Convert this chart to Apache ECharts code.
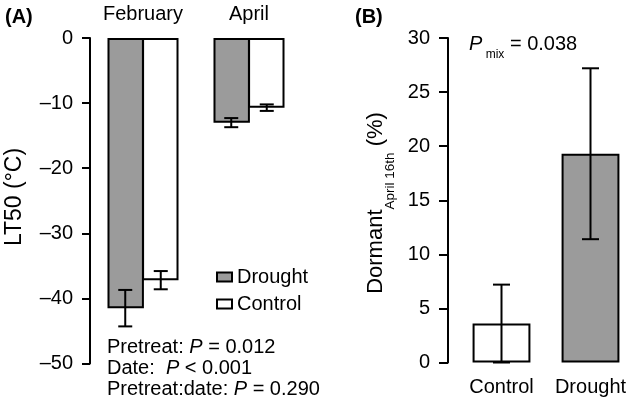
<!DOCTYPE html>
<html><head><meta charset="utf-8">
<script src="https://cdn.jsdelivr.net/npm/echarts@6/dist/echarts.min.js"></script>
<style>html,body{margin:0;padding:0;background:#fff}#c{width:628px;height:403px}</style>
</head><body><div id="c"></div>
<script>
// ---- Panel A data ----
var monthsA = ['February', 'April'];
var droughtA = [-41.5, -13.0];
var droughtSeA = [2.8, 0.7];
var controlA = [-37.2, -10.7];
var controlSeA = [1.4, 0.5];
var yTicksA = [-50, -40, -30, -20, -10, 0];
// ---- Panel B data ----
var groupsB = ['Control', 'Drought'];
var dormantB = [3.6, 19.3];
var dormantSeB = [3.6, 7.9];
var yTicksB = [0, 5, 10, 15, 20, 25, 30];

var FONT = '"Liberation Sans", Arial, Helvetica, sans-serif';
var FS = 20;
var TFS = 22;
var GRAY = '#9b9b9b';
var GAP_A = 0.33, GAP_B = 0.35;

function errRender(gap, capW) {
  return function (params, api) {
    var ci = api.value(0), lo = api.value(1), hi = api.value(2), side = api.value(3), n = api.value(4);
    var band = api.size([1, 0])[0];
    var bw = band * (1 - gap) / n;
    var p1 = api.coord([ci, lo]), p2 = api.coord([ci, hi]);
    var cx = p1[0] + side * bw / 2;
    var st = { stroke: '#000', lineWidth: 2 };
    return { type: 'group', children: [
      { type: 'line', shape: { x1: cx, y1: p1[1], x2: cx, y2: p2[1] }, style: st },
      { type: 'line', shape: { x1: cx - capW / 2, y1: p1[1], x2: cx + capW / 2, y2: p1[1] }, style: st },
      { type: 'line', shape: { x1: cx - capW / 2, y1: p2[1], x2: cx + capW / 2, y2: p2[1] }, style: st }
    ]};
  };
}

var errA = [];
droughtA.forEach(function (v, i) { errA.push([i, v - droughtSeA[i], v + droughtSeA[i], -1, 2]); });
controlA.forEach(function (v, i) { errA.push([i, v - controlSeA[i], v + controlSeA[i], 1, 2]); });
var errB = dormantB.map(function (v, i) { return [i, v - dormantSeB[i], v + dormantSeB[i], 0, 1]; });

var txt = { color: '#000', fontFamily: FONT, fontSize: FS };
var axisLineStyle = { color: '#000', width: 2 };

var chart = echarts.init(document.getElementById('c'), null, { renderer: 'canvas' });
chart.setOption({
  animation: false,
  backgroundColor: '#fff',
  textStyle: { fontFamily: FONT },
  grid: [
    { left: 90, top: 38, width: 212, height: 325.5, outerBoundsMode: 'none', containLabel: false },
    { left: 457, top: 38, width: 178, height: 324.5, outerBoundsMode: 'none', containLabel: false }
  ],
  xAxis: [
    { type: 'category', gridIndex: 0, data: monthsA, position: 'top',
      axisLine: { show: false }, axisTick: { show: false },
      axisLabel: Object.assign({ margin: 14, interval: 0 }, txt) },
    { type: 'category', gridIndex: 1, data: groupsB, position: 'bottom',
      axisLine: { show: false }, axisTick: { show: false },
      axisLabel: Object.assign({ margin: 15, interval: 0, hideOverlap: false }, txt) }
  ],
  yAxis: [
    { type: 'value', gridIndex: 0, min: yTicksA[0], max: yTicksA[yTicksA.length - 1], interval: 10,
      axisLine: { show: true, lineStyle: axisLineStyle },
      axisTick: { show: true, length: 8, lineStyle: axisLineStyle },
      splitLine: { show: false },
      axisLabel: Object.assign({ margin: 17, formatter: function (v) { return String(v).replace('-', '\u2013'); } }, txt) },
    { type: 'value', gridIndex: 1, min: yTicksB[0], max: yTicksB[yTicksB.length - 1], interval: 5, offset: 9,
      axisLine: { show: true, lineStyle: axisLineStyle },
      axisTick: { show: true, length: 9, lineStyle: axisLineStyle },
      splitLine: { show: false },
      axisLabel: Object.assign({ margin: 18 }, txt) }
  ],
  legend: {
    data: ['Drought', 'Control'], orient: 'vertical', left: 216, top: 267, padding: 0,
    itemWidth: 15, itemHeight: 9, itemGap: 7, icon: 'rect', selectedMode: false,
    itemStyle: { borderColor: '#000', borderWidth: 2 },
    textStyle: Object.assign({ lineHeight: 20 }, txt)
  },
  series: [
    { name: 'Drought', type: 'bar', xAxisIndex: 0, yAxisIndex: 0, data: droughtA,
      barGap: '-5%', barCategoryGap: (GAP_A * 100) + '%',
      itemStyle: { color: GRAY, borderColor: '#000', borderWidth: 2 } },
    { name: 'Control', type: 'bar', xAxisIndex: 0, yAxisIndex: 0, data: controlA,
      barGap: '-5%', barCategoryGap: (GAP_A * 100) + '%',
      itemStyle: { color: '#fff', borderColor: '#000', borderWidth: 2 } },
    { type: 'custom', xAxisIndex: 0, yAxisIndex: 0, data: errA, z: 10,
      encode: { x: 0, y: [1, 2] }, renderItem: errRender(GAP_A, 14) },
    { type: 'bar', xAxisIndex: 1, yAxisIndex: 1, barCategoryGap: (GAP_B * 100) + '%',
      data: dormantB.map(function (v, i) { return { value: v, itemStyle: { color: i === 0 ? '#fff' : GRAY } }; }),
      itemStyle: { borderColor: '#000', borderWidth: 2 } },
    { type: 'custom', xAxisIndex: 1, yAxisIndex: 1, data: errB, z: 10,
      encode: { x: 0, y: [1, 2] }, renderItem: errRender(GAP_B, 17) }
  ],
  graphic: [
    { type: 'text', x: 5, y: 17, style: { text: '(A)', fontFamily: FONT, fontSize: 20, fontWeight: 'bold', fill: '#000', verticalAlign: 'middle' } },
    { type: 'text', x: 355, y: 17, style: { text: '(B)', fontFamily: FONT, fontSize: 20, fontWeight: 'bold', fill: '#000', verticalAlign: 'middle' } },
    { type: 'text', x: 15, y: 197, rotation: Math.PI / 2,
      style: { text: 'LT50 (°C)', fontFamily: FONT, fontSize: 23, fill: '#000', align: 'center', verticalAlign: 'middle' } },
    { type: 'text', x: 386, y: 203, rotation: Math.PI / 2,
      style: { text: '{m|Dormant}{s|April 16th}{m| (%)}', fontFamily: FONT, fill: '#000', align: 'center', verticalAlign: 'middle',
        rich: { m: { fontSize: TFS, fontFamily: FONT, lineHeight: 22, padding: [0, 0, 10, 0], verticalAlign: 'bottom' },
                s: { fontSize: 13.5, fontFamily: FONT, lineHeight: 14, verticalAlign: 'bottom' } } } },
    { type: 'text', x: 469, y: 50.8,
      style: { text: '{i|P}{s| mix}{m| = 0.038}', fontFamily: FONT, fill: '#000', verticalAlign: 'middle',
        rich: { i: { fontSize: FS, fontFamily: FONT, fontStyle: 'italic', lineHeight: 20, padding: [0, 0, 6, 0], verticalAlign: 'bottom' },
                m: { fontSize: FS, fontFamily: FONT, lineHeight: 20, padding: [0, 0, 6, 0], verticalAlign: 'bottom' },
                s: { fontSize: 12, fontFamily: FONT, lineHeight: 13, verticalAlign: 'bottom' } } } },
    { type: 'text', x: 107, y: 347,
      style: { text: '{n|Pretreat: }{i|P}{n| = 0.012}', fontFamily: FONT, fill: '#000', verticalAlign: 'middle',
        rich: { n: { fontSize: FS, fontFamily: FONT }, i: { fontSize: FS, fontFamily: FONT, fontStyle: 'italic' } } } },
    { type: 'text', x: 107, y: 368,
      style: { text: '{n|Date:  }{i|P}{n| < 0.001}', fontFamily: FONT, fill: '#000', verticalAlign: 'middle',
        rich: { n: { fontSize: FS, fontFamily: FONT }, i: { fontSize: FS, fontFamily: FONT, fontStyle: 'italic' } } } },
    { type: 'text', x: 107, y: 389,
      style: { text: '{n|Pretreat:date: }{i|P}{n| = 0.290}', fontFamily: FONT, fill: '#000', verticalAlign: 'middle',
        rich: { n: { fontSize: FS, fontFamily: FONT }, i: { fontSize: FS, fontFamily: FONT, fontStyle: 'italic' } } } }
  ]
});
</script></body></html>
